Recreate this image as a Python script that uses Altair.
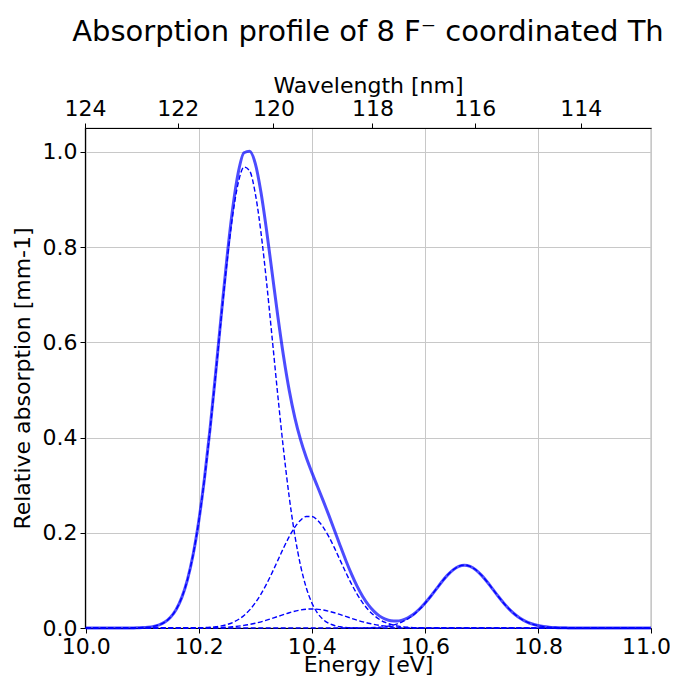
import altair as alt
import pandas as pd

FONT = "DejaVu Sans"

# ---- data ----
energy_total = [10.00, 10.07,
    10.08, 10.09, 10.10, 10.11, 10.12, 10.13, 10.14, 10.15, 10.16, 10.17,
    10.18, 10.19, 10.20, 10.21, 10.22, 10.23, 10.24, 10.25, 10.26, 10.27,
    10.28, 10.29, 10.30, 10.31, 10.32, 10.33, 10.34, 10.35, 10.36, 10.37,
    10.38, 10.39, 10.40, 10.41, 10.42, 10.43, 10.44, 10.45, 10.46, 10.47,
    10.48, 10.49, 10.50, 10.51, 10.52, 10.53, 10.54, 10.55, 10.56, 10.57,
    10.58, 10.59, 10.60, 10.61, 10.62, 10.63, 10.64, 10.65, 10.66, 10.67,
    10.68, 10.69, 10.70, 10.71, 10.72, 10.73, 10.74, 10.75, 10.76, 10.77,
    10.78, 10.79, 10.80, 10.81, 10.82, 10.83, 10.84, 10.85, 10.86,
    10.93, 11.00]
total = [0.0, 0.0,
    0.0002, 0.0003, 0.0008, 0.0017, 0.0034, 0.0067, 0.0125, 0.0226, 0.0389, 0.0643,
    0.1018, 0.1544, 0.2248, 0.3136, 0.4191, 0.5372, 0.6603, 0.7786, 0.8810, 0.9574,
    0.9980, 1.0010, 0.9751, 0.9149, 0.8342, 0.7437, 0.6530, 0.5701, 0.4990, 0.4413,
    0.3955, 0.3585, 0.3268, 0.2972, 0.2676, 0.2370, 0.2054, 0.1734, 0.1424, 0.1136,
    0.0880, 0.0663, 0.0485, 0.0349, 0.0249, 0.0184, 0.0150, 0.0145, 0.0166, 0.0215,
    0.0290, 0.0393, 0.0519, 0.0662, 0.0816, 0.0971, 0.1110, 0.1222, 0.1295, 0.1320,
    0.1295, 0.1222, 0.1110, 0.0971, 0.0816, 0.0661, 0.0515, 0.0386, 0.0278, 0.0193,
    0.0129, 0.0083, 0.0051, 0.0030, 0.0017, 0.0010, 0.0005, 0.0003, 0.0001,
    0.0, 0.0]

energy_c1 = [10.00, 10.07,
    10.08, 10.09, 10.10, 10.11, 10.12, 10.13, 10.14, 10.15, 10.16, 10.17,
    10.18, 10.19, 10.20, 10.21, 10.22, 10.23, 10.24, 10.25, 10.26, 10.27,
    10.28, 10.29, 10.30, 10.31, 10.32, 10.33, 10.34, 10.35, 10.36, 10.37,
    10.38, 10.39, 10.40, 10.41, 10.42, 10.43, 10.44, 10.45, 10.46, 10.47,
    10.48, 10.55, 11.00]
comp_c1 = [0.0, 0.0,
    0.0002, 0.0003, 0.0008, 0.0017, 0.0034, 0.0067, 0.0125, 0.0226, 0.0389, 0.0643,
    0.1017, 0.1543, 0.2242, 0.3125, 0.4172, 0.5339, 0.6548, 0.7695, 0.8668, 0.9358,
    0.9681, 0.9599, 0.9122, 0.8307, 0.7251, 0.6065, 0.4862, 0.3736, 0.2751, 0.1941,
    0.1313, 0.0851, 0.0528, 0.0314, 0.0179, 0.0098, 0.0052, 0.0026, 0.0012, 0.0006,
    0.0003, 0.0, 0.0]

energy_c2 = [10.00, 10.15,
    10.20, 10.21, 10.22, 10.23, 10.24, 10.25, 10.26, 10.27, 10.28, 10.29,
    10.30, 10.31, 10.32, 10.33, 10.34, 10.35, 10.36, 10.37, 10.38, 10.39,
    10.40, 10.41, 10.42, 10.43, 10.44, 10.45, 10.46, 10.47, 10.48, 10.49,
    10.50, 10.51, 10.52, 10.53, 10.54, 10.55, 10.56, 10.57, 10.58, 10.59,
    10.60, 10.65, 11.00]
comp_c2 = [0.0, 0.0,
    0.0004, 0.0008, 0.0015, 0.0026, 0.0044, 0.0073, 0.0116, 0.0178, 0.0264, 0.0380,
    0.0529, 0.0712, 0.0927, 0.1169, 0.1425, 0.1682, 0.1919, 0.2119, 0.2264, 0.2340,
    0.2340, 0.2264, 0.2119, 0.1919, 0.1682, 0.1425, 0.1169, 0.0927, 0.0712, 0.0529,
    0.0380, 0.0264, 0.0178, 0.0116, 0.0073, 0.0044, 0.0026, 0.0015, 0.0008, 0.0004,
    0.0002, 0.0, 0.0]

energy_c3 = [10.00, 10.14,
    10.16, 10.18, 10.20, 10.22, 10.24, 10.26, 10.28, 10.30, 10.32, 10.34,
    10.36, 10.38, 10.40, 10.42, 10.44, 10.46, 10.48, 10.50, 10.52, 10.54,
    10.56, 10.58, 10.60, 10.62, 10.64, 10.70, 11.00]
comp_c3 = [0.0, 0.0,
    0.0000, 0.0001, 0.0002, 0.0004, 0.0011, 0.0026, 0.0054, 0.0100, 0.0164, 0.0243,
    0.0320, 0.0378, 0.0400, 0.0378, 0.0320, 0.0243, 0.0164, 0.0100, 0.0054, 0.0026,
    0.0011, 0.0004, 0.0002, 0.0001, 0.0000, 0.0, 0.0]

energy_c4 = [10.00, 10.40,
    10.48, 10.49, 10.50, 10.51, 10.52, 10.53, 10.54, 10.55, 10.56, 10.57,
    10.58, 10.59, 10.60, 10.61, 10.62, 10.63, 10.64, 10.65, 10.66, 10.67,
    10.68, 10.69, 10.70, 10.71, 10.72, 10.73, 10.74, 10.75, 10.76, 10.77,
    10.78, 10.79, 10.80, 10.81, 10.82, 10.83, 10.84, 10.85, 10.86,
    10.92, 11.00]
comp_c4 = [0.0, 0.0,
    0.0001, 0.0003, 0.0005, 0.0010, 0.0017, 0.0030, 0.0051, 0.0083, 0.0129, 0.0193,
    0.0278, 0.0386, 0.0515, 0.0661, 0.0816, 0.0971, 0.1110, 0.1222, 0.1295, 0.1320,
    0.1295, 0.1222, 0.1110, 0.0971, 0.0816, 0.0661, 0.0515, 0.0386, 0.0278, 0.0193,
    0.0129, 0.0083, 0.0051, 0.0030, 0.0017, 0.0010, 0.0005, 0.0003, 0.0001,
    0.0, 0.0]

energy_ticks = [10.0, 10.2, 10.4, 10.6, 10.8, 11.0]
absorption_ticks = [0.0, 0.2, 0.4, 0.6, 0.8, 1.0]
wavelength_ticks = [124, 122, 120, 118, 116, 114]
HC = 1239.84  # eV*nm
wavelength_tick_energies = [HC / w for w in wavelength_ticks]

rows = []
for name, es, vs in [("total", energy_total, total),
                     ("c1", energy_c1, comp_c1),
                     ("c2", energy_c2, comp_c2),
                     ("c3", energy_c3, comp_c3),
                     ("c4", energy_c4, comp_c4)]:
    for e, v in zip(es, vs):
        rows.append({"E": e, "v": v, "s": name})
df = pd.DataFrame(rows)

x_scale = alt.Scale(domain=[HC / 124.0, 11.0], nice=False, zero=False)
y_scale = alt.Scale(domain=[0.0, 1.05], nice=False, zero=False)

common = dict(labelFont=FONT, titleFont=FONT, labelFontSize=22, titleFontSize=22,
              labelColor="black", titleColor="black", titleFontWeight="normal",
              tickColor="black", tickSize=5, tickWidth=1, domainColor="black",
              labelPadding=3)

bottom_axis = alt.Axis(orient="bottom", values=energy_ticks, format=".1f",
                       title="Energy [eV]", grid=True, gridColor="#c8c8c8",
                       gridWidth=1, titlePadding=-3, labelFlush=False,
                       labelOffset={"condition": {"test": "datum.value > 10.99", "value": -5},
                                    "value": 0},
                       **common)
top_axis = alt.Axis(orient="top", values=wavelength_tick_energies,
                    labelExpr="format(%s/datum.value, '.0f')" % HC,
                    title="Wavelength [nm]", grid=False, titlePadding=0,
                    labelFlush=False, **common)
y_axis = alt.Axis(values=absorption_ticks, format=".1f",
                  title="Relative absorption [mm-1]", grid=True,
                  gridColor="#c8c8c8", gridWidth=1, titlePadding=8, **common)

base = alt.Chart(df)

total_line = base.transform_filter(alt.datum.s == "total").mark_line(
    color="blue", opacity=0.7, strokeWidth=3, interpolate="monotone"
).encode(
    x=alt.X("E:Q", scale=x_scale, axis=bottom_axis),
    y=alt.Y("v:Q", scale=y_scale, axis=y_axis),
)

comp_lines = base.transform_filter(alt.datum.s != "total").mark_line(
    color="blue", strokeWidth=1.4, strokeDash=[5, 2.5], interpolate="monotone"
).encode(
    x=alt.X("E:Q", scale=x_scale, axis=top_axis),
    y=alt.Y("v:Q", scale=y_scale, axis=y_axis),
    detail="s:N",
)

chart = alt.layer(total_line, comp_lines).resolve_axis(x="independent").properties(
    width=566, height=500,
    title=alt.TitleParams(text="Absorption profile of 8 F\u207b coordinated Th",
                          font=FONT, fontSize=29, fontWeight="normal",
                          color="black", anchor="middle", offset=27),
    padding={"left": 77, "top": 120, "right": 19, "bottom": 50},
    autosize="none",
).configure_view(stroke="#808080", strokeWidth=1.2)

chart.save("out.html", embed_options={"renderer": "svg", "actions": False})
